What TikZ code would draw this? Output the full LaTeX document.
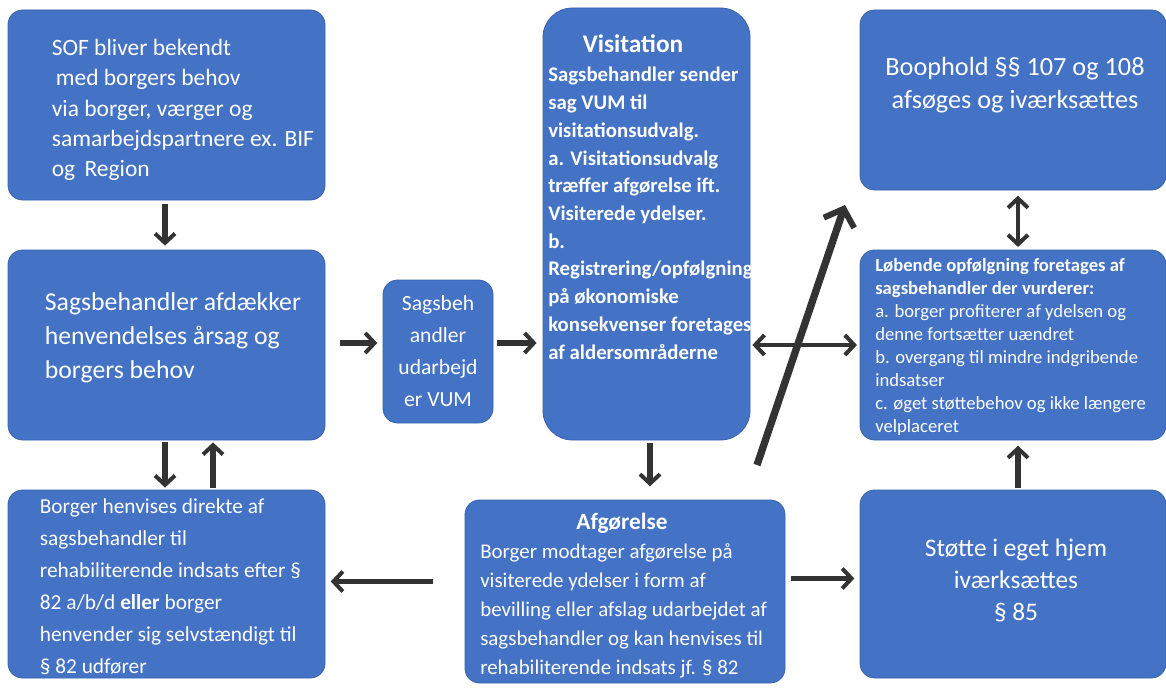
\documentclass[tikz,border=0pt]{standalone}
\usepackage{fontspec}
\setmainfont{Carlito}
\usetikzlibrary{arrows.meta,calc}
\definecolor{boxblue}{HTML}{4472C4}
\definecolor{boxline}{HTML}{3A63AE}
\definecolor{arrgray}{HTML}{333333}
\tikzset{
  box/.style={draw=boxline, fill=boxblue, line width=0.6pt, rounded corners=11pt, inner sep=0pt},
  txt/.style={text=white, inner sep=0pt, align=left},
  arr/.style={draw=arrgray, line width=4pt, -{Straight Barb[length=7pt,width=15pt,line width=3pt]}},
  darr/.style={draw=arrgray, line width=3.5pt, {Straight Barb[length=7pt,width=15pt,line width=3pt]}-{Straight Barb[length=7pt,width=15pt,line width=3pt]}},
}
\begin{document}
\begin{tikzpicture}[x=0.75pt,y=-0.75pt]
\useasboundingbox (0,0) rectangle (1166,688);
% boxes
\node[box, minimum width=237.75pt, minimum height=142.5pt] (b1) at (166.5,105) {};
\node[box, minimum width=237.75pt, minimum height=142.5pt] (b2) at (166.5,345) {};
\node[box, minimum width=237.75pt, minimum height=141pt] (b3) at (166.5,584) {};
\node[box, minimum width=82.5pt, minimum height=107.25pt, text=white, align=center,
      font=\fontsize{16.2}{24}\selectfont] (sm) at (438,351.5) {Sagsbeh\\andler\\udarbejd\\er VUM};
\node[box, rounded corners=22pt, minimum width=155.25pt, minimum height=324pt] (vis) at (646.5,224) {};
\node[box, minimum width=229.5pt, minimum height=135pt] (bo) at (1013,100) {};
\node[box, minimum width=229.5pt, minimum height=142.5pt] (lo) at (1013,345) {};
\node[box, minimum width=229.5pt, minimum height=141pt] (st) at (1013,584) {};
\node[box, minimum width=240pt, minimum height=137.25pt] (afg) at (625,591.5) {};
% texts
\node[txt, anchor=west, font=\fontsize{17.6}{22.8}\selectfont] (t1) at ($(b1.west)+(44,5)$)
  {SOF bliver bekendt\\\hspace*{3pt}med borgers behov\\via borger, værger og\\samarbejdspartnere ex. BIF\\og\hspace*{3pt} Region};
\node[txt, anchor=west, font=\fontsize{19.3}{25.5}\selectfont] (t2) at ($(b2.west)+(37,-7)$)
  {Sagsbehandler afdækker\\henvendelses årsag og\\borgers behov};
\node[txt, anchor=west, font=\fontsize{16}{24}\selectfont] (t3) at ($(b3.west)+(32,3)$)
  {Borger henvises direkte af\\sagsbehandler til\\rehabiliterende indsats efter §\\82 a/b/d \textbf{eller} borger\\henvender sig selvstændigt til\\§ 82 udfører};
\node[txt, font=\fontsize{19}{22}\selectfont\bfseries] (vt) at (633,44) {Visitation};
\node[txt, anchor=north west, font=\fontsize{15.6}{20.8}\selectfont\bfseries] (vb) at (548,67)
  {Sagsbehandler sender\\sag VUM til\\visitationsudvalg.\\a. Visitationsudvalg\\træffer afgørelse ift.\\Visiterede ydelser.\\b.\\Registrering/opfølgning\\på økonomiske\\konsekvenser foretages\\af aldersområderne};
\node[txt, align=center, font=\fontsize{19.7}{24.75}\selectfont] (tbo) at (1015,85)
  {Boophold §§ 107 og 108\\afsøges og iværksættes};
\node[txt, anchor=west, font=\fontsize{14}{17.25}\selectfont] (tlo) at (875,347)
  {\textbf{Løbende opfølgning foretages af}\\\textbf{sagsbehandler der vurderer:}\\a. borger profiterer af ydelsen og\\denne fortsætter uændret\\b. overgang til mindre indgribende\\indsatser\\c. øget støttebehov og ikke længere\\velplaceret};
\node[txt, align=center, font=\fontsize{19}{24}\selectfont] (tst) at (1016,580)
  {Støtte i eget hjem\\iværksættes\\§ 85};
\node[txt, font=\fontsize{17.5}{20}\selectfont\bfseries] (at) at (622,523) {Afgørelse};
\node[txt, anchor=west, font=\fontsize{15.7}{21.75}\selectfont] (ab) at (480,611)
  {Borger modtager afgørelse på\\visiterede ydelser i form af\\bevilling eller afslag udarbejdet af\\sagsbehandler og kan henvises til\\rehabiliterende indsats jf. § 82};
% connectors
\draw[arr, shorten <=3pt, shorten >=3pt] ($(b1.south)+(-1.5,0)$) -- ($(b2.north)+(-1.5,0)$);
\draw[arr, shorten <=1.5pt, shorten >=1.5pt] ($(b2.south)+(-1.5,0)$) -- ($(b3.north)+(-1.5,0)$);
\draw[arr, shorten <=1.5pt, shorten >=1.5pt] ($(b3.north)+(46.5,0)$) -- ($(b2.south)+(46.5,0)$);
\draw[arr, shorten <=11pt, shorten >=4pt] ($(b2.east)+(0,-2)$) -- ($(b2.east -| sm.west)+(0,-2)$);
\draw[arr, shorten <=3pt, shorten >=4.5pt] ($(sm.east)+(0,-8.5)$) -- ($(sm.east -| vis.west)+(0,-8.5)$);
\draw[arr, shorten <=2pt, shorten >=10pt] ($(vis.south)+(3.5,0)$) -- ($(vis.south |- afg.north)+(3.5,0)$);
\draw[arr, shorten <=24pt, shorten >=4pt] ($(afg.west)+(0,-10)$) -- ($(afg.west -| b3.east)+(0,-10)$);
\draw[arr, shorten <=4pt, shorten >=4pt] ($(afg.east)+(0,-13)$) -- ($(afg.east -| st.west)+(0,-13)$);
\draw[arr, shorten <=1.5pt, shorten >=4pt] ($(st.north)+(5,0)$) -- ($(lo.south)+(5,0)$);
\draw[darr, shorten <=4pt, shorten >=2pt] ($(bo.south)+(5,0)$) -- ($(lo.north)+(5,0)$);
\draw[darr, shorten <=1.5pt, shorten >=2pt] (lo.west -| vis.east) -- (lo.west);
\coordinate (dA) at (757,465);
\coordinate (dB) at (845,205);
\draw[draw=arrgray, line width=5.5pt, -{Straight Barb[length=11pt,width=24pt,line width=4.5pt]}] (dA) -- (dB);
\end{tikzpicture}
\end{document}
